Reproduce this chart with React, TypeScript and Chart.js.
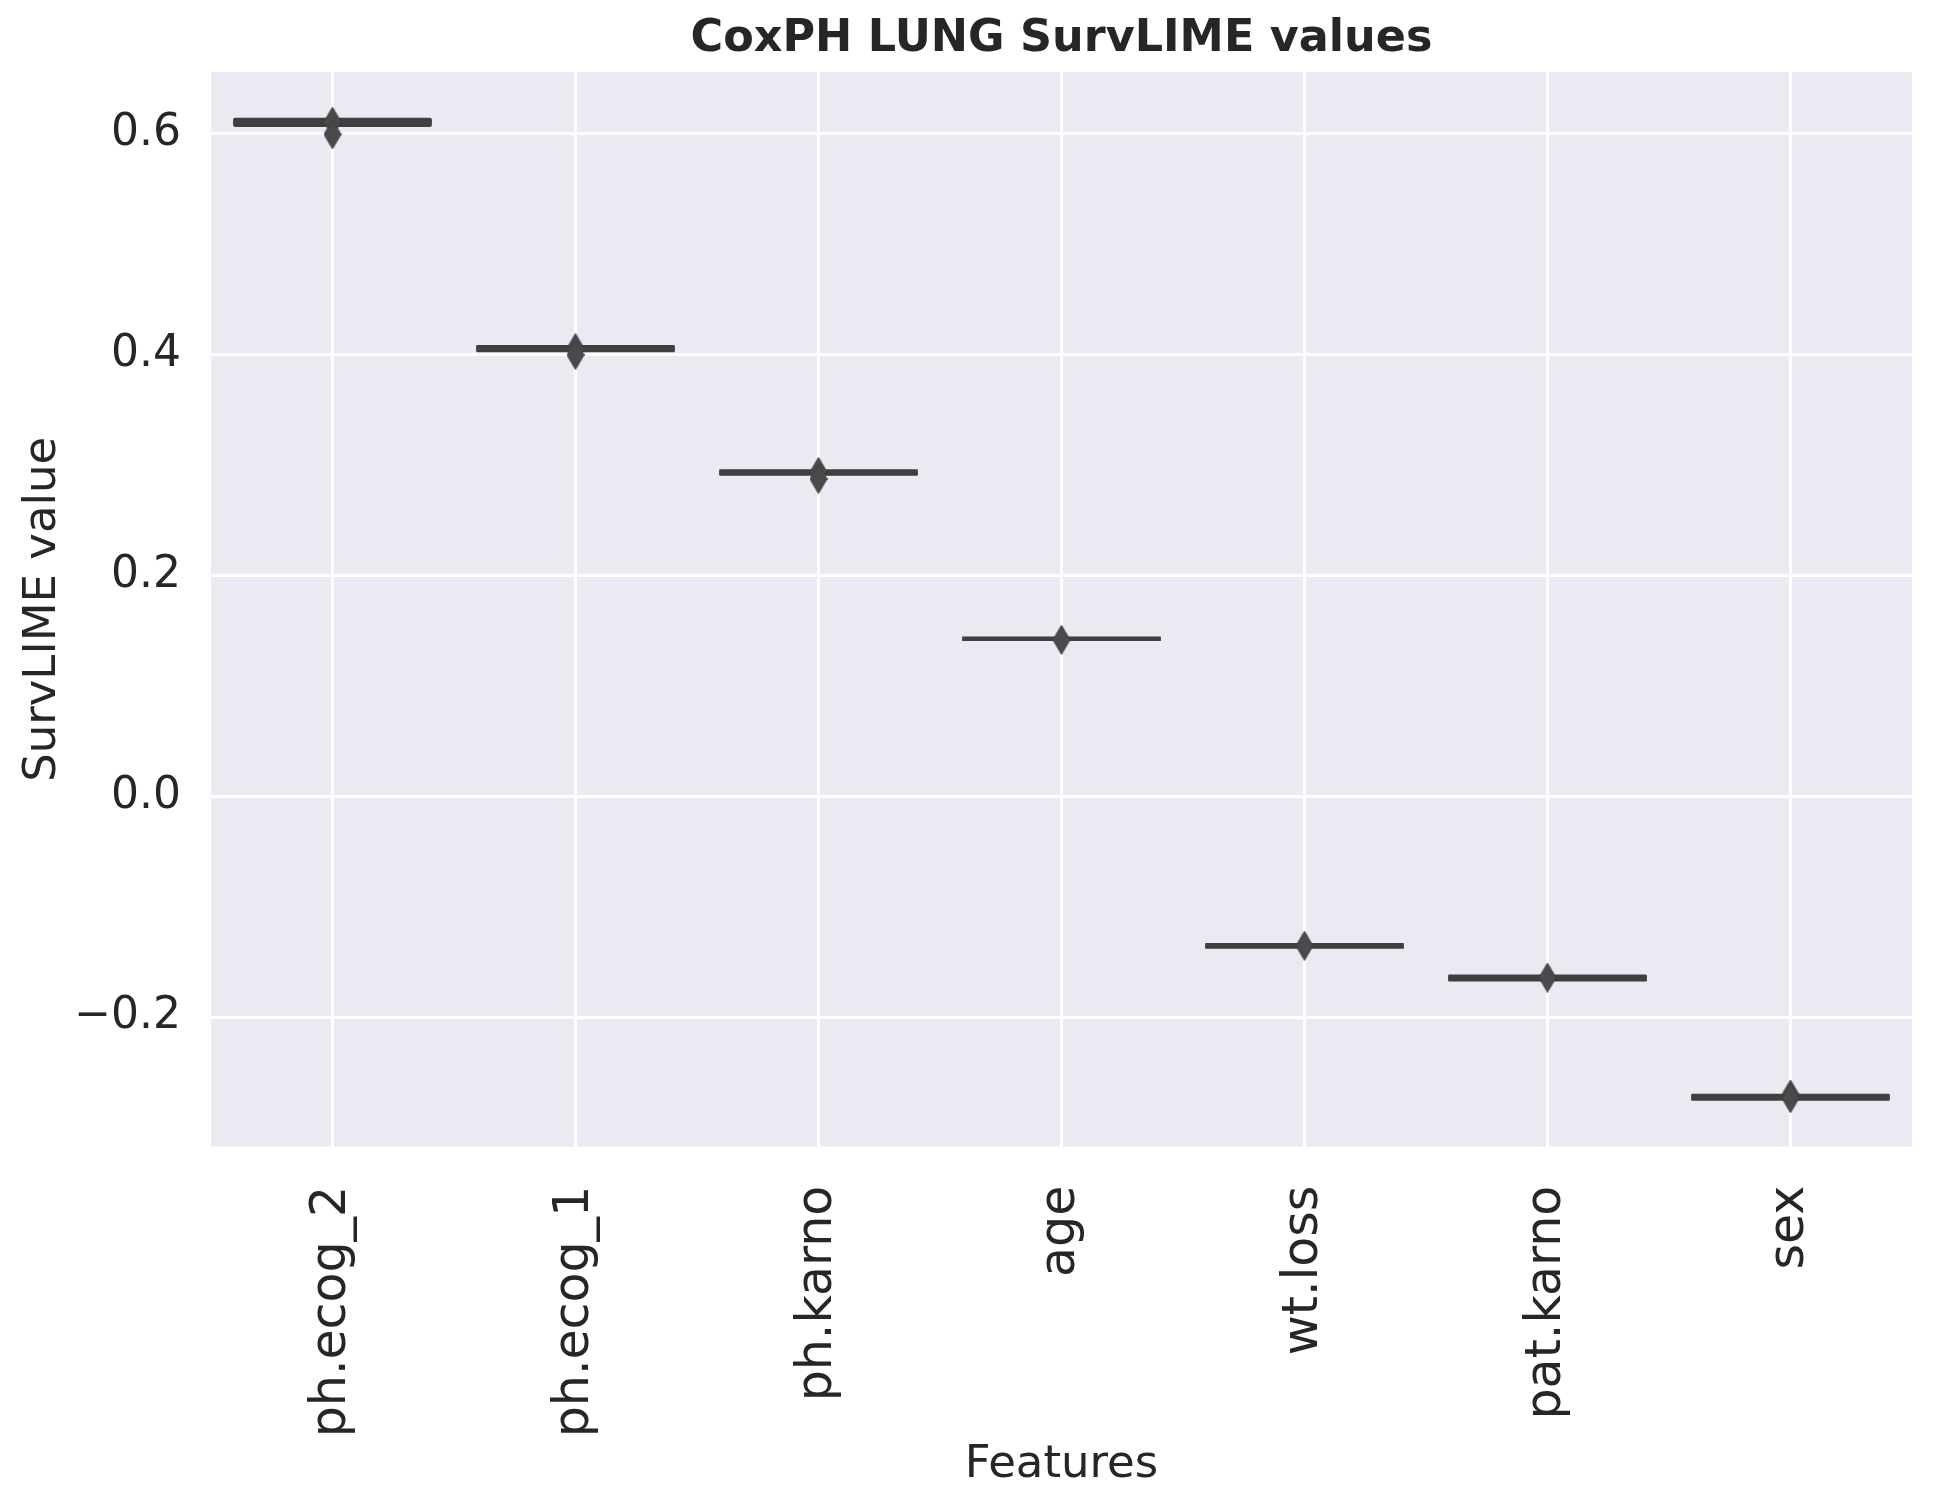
import React, { useEffect, useRef } from 'react';
import { Chart, registerables } from 'chart.js';

Chart.register(...registerables);

// feature names in plotted order
const features = ['ph.ecog_2', 'ph.ecog_1', 'ph.karno', 'age', 'wt.loss', 'pat.karno', 'sex'];
// box lower / upper quartiles (boxes are almost collapsed)
const q1 = [0.6078, 0.4037, 0.2919, 0.1424, -0.1363, -0.1658, -0.2739];
const q3 = [0.6122, 0.4063, 0.294, 0.1424, -0.1351, -0.1636, -0.2715];
// outlier diamonds per feature
const outliers = [
  [0.6105, 0.5991],
  [0.4055, 0.3994],
  [0.2934, 0.2871],
  [0.1415],
  [-0.1355],
  [-0.1643],
  [-0.2702, -0.2735],
];
const yTicks = [-0.2, 0, 0.2, 0.4, 0.6];
const yMin = -0.3174;
const yMax = 0.6555;

const FONT = "'DejaVu Sans', sans-serif";
const TEXT = '#262626';

// thin diamond marker like matplotlib's 'd'
function makeDiamond(): HTMLCanvasElement {
  const c = document.createElement('canvas');
  c.width = 18;
  c.height = 30;
  const g = c.getContext('2d')!;
  g.beginPath();
  g.moveTo(9, 0.5);
  g.lineTo(17.5, 15);
  g.lineTo(9, 29.5);
  g.lineTo(0.5, 15);
  g.closePath();
  g.fillStyle = '#4a4a4a';
  g.fill();
  g.strokeStyle = '#3d3d3d';
  g.lineWidth = 1;
  g.stroke();
  return c;
}

const plotBackground = {
  id: 'plotBackground',
  beforeDraw(chart: Chart) {
    const { ctx, chartArea } = chart;
    ctx.save();
    ctx.fillStyle = '#EAEAF2';
    ctx.fillRect(chartArea.left, chartArea.top, chartArea.right - chartArea.left, chartArea.bottom - chartArea.top);
    ctx.restore();
  },
};

const BoxChart: React.FC = () => {
  const chartRef = useRef<HTMLCanvasElement>(null);
  const chartInstance = useRef<Chart | null>(null);

  useEffect(() => {
    document.body.style.margin = '0';
    document.body.style.overflow = 'hidden';
    if (!chartRef.current) return;
    if (chartInstance.current) chartInstance.current.destroy();
    const ctx = chartRef.current.getContext('2d');
    if (!ctx) return;

    const diamond = makeDiamond();
    const points = features.flatMap((f, i) => outliers[i].map((v) => ({ x: f, y: v })));

    chartInstance.current = new Chart(ctx, {
      type: 'bar',
      data: {
        labels: features,
        datasets: [
          {
            type: 'bar',
            data: features.map((_, i) => [q1[i], q3[i]]),
            backgroundColor: '#3f3f3f',
            borderWidth: 0,
            borderRadius: 2,
            borderSkipped: false,
            inflateAmount: 2.2,
            barPercentage: 0.8,
            categoryPercentage: 1,
            order: 2,
          } as any,
          {
            type: 'line',
            data: points as any,
            showLine: false,
            pointStyle: diamond,
            pointRadius: 10,
            order: 1,
          } as any,
        ],
      },
      options: {
        responsive: true,
        maintainAspectRatio: false,
        animation: false,
        layout: { padding: { left: 0, right: 21, top: 0, bottom: 0 } },
        plugins: {
          legend: { display: false },
          tooltip: { enabled: false },
          title: {
            display: true,
            text: 'CoxPH LUNG SurvLIME values',
            color: TEXT,
            fullSize: false,
            font: { family: FONT, size: 44.5, weight: 'bold' },
            padding: { top: 12.8, bottom: 5.8 },
          },
        },
        scales: {
          x: {
            type: 'category',
            offset: true,
            grid: { color: '#ffffff', lineWidth: 3, offset: false, drawTicks: false },
            border: { display: false },
            ticks: {
              color: TEXT,
              font: { family: FONT, size: 49 },
              minRotation: 90,
              maxRotation: 90,
              autoSkip: false,
              padding: 39,
            },
            title: {
              display: true,
              text: 'Features',
              color: TEXT,
              font: { family: FONT, size: 45 },
              padding: { top: 0, bottom: 13 },
            },
            afterFit: (scale: any) => {
              scale.height = 358.3;
            },
          },
          y: {
            type: 'linear',
            min: yMin,
            max: yMax,
            grid: { color: '#ffffff', lineWidth: 3, drawTicks: false },
            border: { display: false },
            afterBuildTicks: (scale: any) => {
              scale.ticks = yTicks.map((v) => ({ value: v }));
            },
            ticks: {
              color: TEXT,
              font: { family: FONT, size: 44 },
              padding: 30,
              callback: (value: any) => {
                const v = Number(value);
                return (v < 0 ? '\u2212' : '') + Math.abs(v).toFixed(1);
              },
            },
            title: {
              display: true,
              text: 'SurvLIME value',
              color: TEXT,
              font: { family: FONT, size: 45 },
              padding: { top: 16, bottom: 0 },
            },
            afterFit: (scale: any) => {
              scale.width = 211;
            },
          },
        },
      },
      plugins: [plotBackground],
    });

    return () => {
      if (chartInstance.current) {
        chartInstance.current.destroy();
        chartInstance.current = null;
      }
    };
  }, []);

  return (
    <div style={{ width: 1933, height: 1505, position: 'relative' }}>
      <canvas ref={chartRef} style={{ display: 'block' }} />
    </div>
  );
};

export default function App() {
  return <BoxChart />;
}
